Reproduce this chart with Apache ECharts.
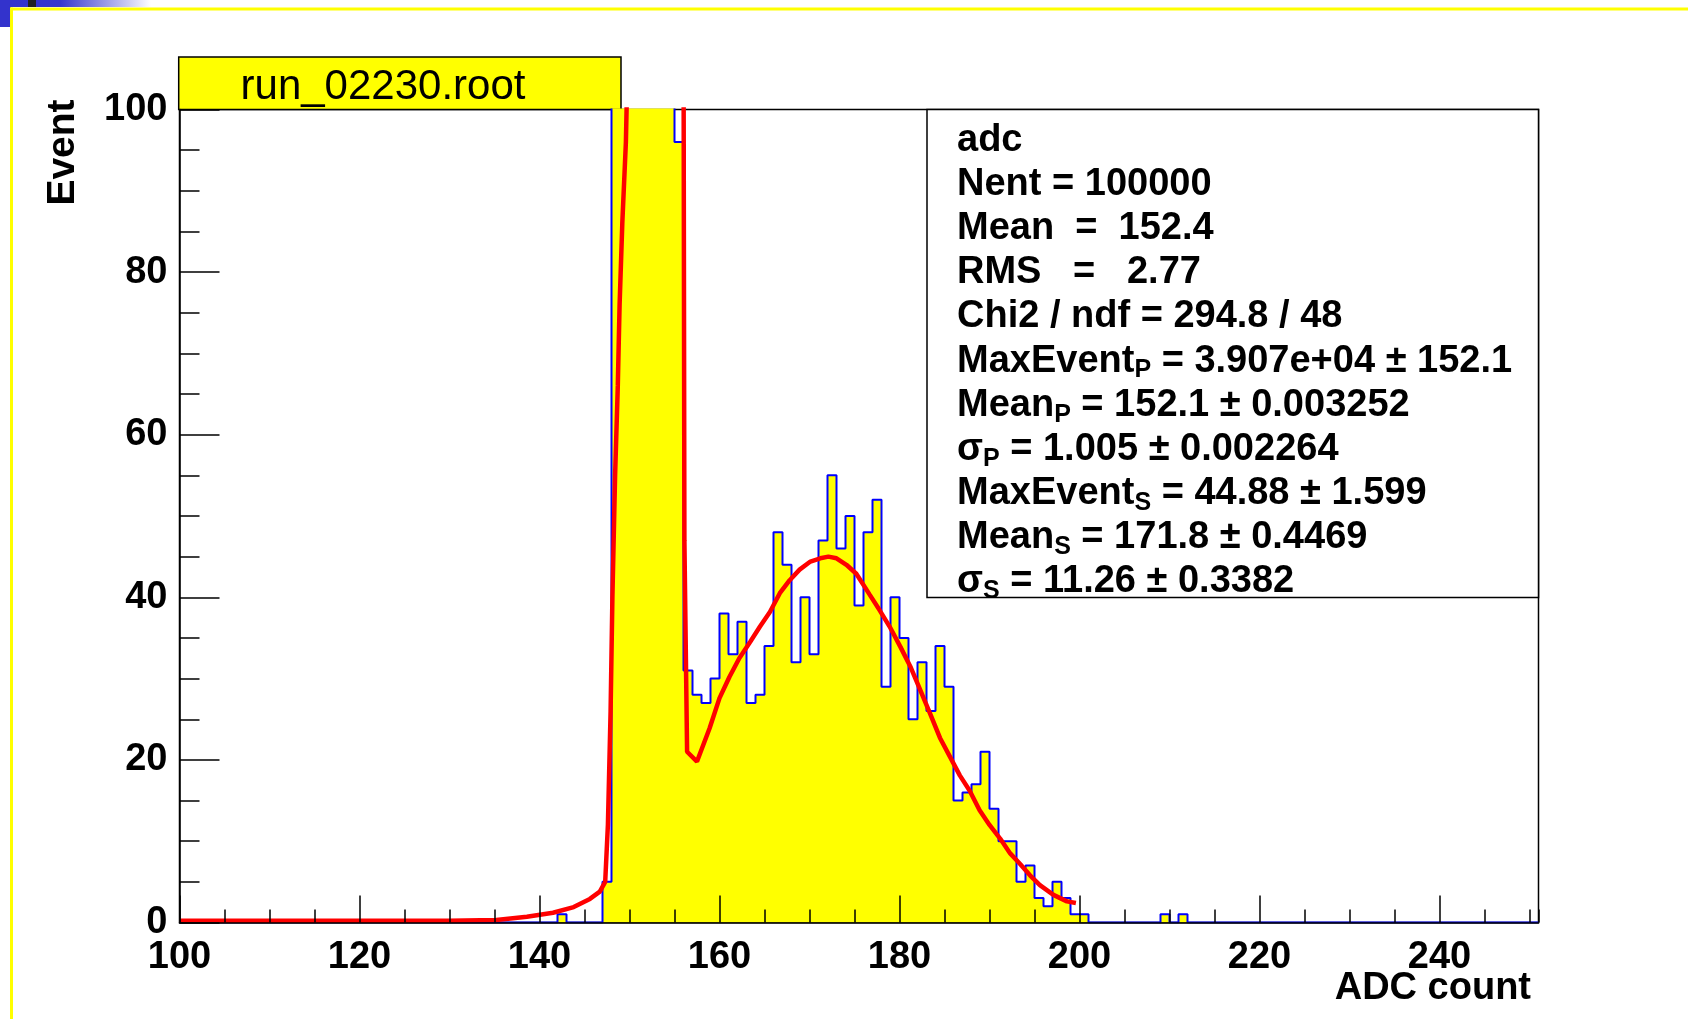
<!DOCTYPE html>
<html>
<head>
<meta charset="utf-8">
<script src="https://cdn.jsdelivr.net/npm/echarts@6/dist/echarts.min.js"></script>
<style>
  html, body { margin: 0; padding: 0; background: #fff; }
  #chart_adc { width: 1688px; height: 1019px; }
</style>
</head>
<body>
<div id="chart_adc"></div>
<script>
var FONT = '"Liberation Sans", Arial, Helvetica, sans-serif';

// histogram: one bin per ADC count, first bin starts at 100
var binLo = 100;
var binW = 1;
var counts = [
  0, 0, 0, 0, 0, 0, 0, 0, 0, 0,              // 100-109
  0, 0, 0, 0, 0, 0, 0, 0, 0, 0,              // 110-119
  0, 0, 0, 0, 0, 0, 0, 0, 0, 0,              // 120-129
  0, 0, 0, 0, 0, 0, 0, 0, 0, 0,              // 130-139
  0, 0, 1, 0, 0, 0, 0, 5, 300, 3200,         // 140-149 (148+ off scale)
  14000, 30000, 28000, 15000, 4500, 96, 31, 28, 27, 30,  // 150-159
  38, 33, 37, 27, 28, 34, 48, 44, 32, 40,    // 160-169
  33, 47, 55, 46, 50, 39, 48, 52, 29, 40,    // 170-179
  35, 25, 32, 26, 34, 29, 15, 16, 17, 21,    // 180-189
  14, 10, 10, 5, 7, 3, 2, 5, 3, 1,           // 190-199
  1, 0, 0, 0, 0, 0, 0, 0, 0, 1,              // 200-209
  0, 1, 0, 0, 0, 0, 0, 0, 0, 0,              // 210-219
  0, 0, 0, 0, 0, 0, 0, 0, 0, 0,              // 220-229
  0, 0, 0, 0, 0, 0, 0, 0, 0, 0,              // 230-239
  0, 0, 0, 0, 0, 0, 0, 0, 0, 0,              // 240-249
  0                                          // 250
];

// fitted curve
var fitX = [100, 110, 120, 130, 135.2, 138.6, 141.5, 143.8, 145.6, 146.7, 147.3,
  147.6, 147.9, 148.1, 148.4, 148.7, 148.9, 149.2, 149.6, 149.9,
  156.0, 156.1, 156.4, 157.5, 158.9, 160.0, 161.1, 162.2, 163.4, 164.5, 165.6,
  166.7, 167.8, 168.9, 170.1, 171.2, 172.1, 173.0, 174.1, 175.2, 176.7, 177.8,
  178.9, 180.1, 181.2, 182.3, 183.4, 184.5, 185.6, 186.7, 187.8, 188.9, 190.0,
  191.2, 192.3, 193.4, 194.5, 195.6, 197.1, 198.6, 199.6];
var fitY = [0.2, 0.2, 0.2, 0.2, 0.3, 0.7, 1.2, 1.9, 2.9, 3.8, 5.0,
  12, 26, 40, 55, 66, 76, 86, 96, 112,
  112, 47, 21, 19.8, 23.9, 27.6, 30.2, 32.5, 34.5, 36.4, 38.2,
  40.5, 42.1, 43.4, 44.4, 44.8, 45.0, 44.8, 44.0, 42.9, 40.3, 38.4,
  36.4, 33.9, 31.5, 28.6, 25.7, 22.7, 20.4, 18.1, 16.2, 13.8, 12.0,
  10.3, 8.5, 7.2, 5.8, 4.6, 3.4, 2.6, 2.4];

var xRange = [100, 251];
var yRange = [0, 100];

var statsLines = [
  '{b|adc}',
  '{b|Nent = 100000}',
  '{b|Mean  =  152.4}',
  '{b|RMS   =   2.77}',
  '{b|Chi2 / ndf = 294.8 / 48}',
  '{b|MaxEvent}{s|P}{b| = 3.907e+04 ± 152.1}',
  '{b|Mean}{s|P}{b| = 152.1 ± 0.003252}',
  '{b|σ}{s|P}{b| = 1.005 ± 0.002264}',
  '{b|MaxEvent}{s|S}{b| = 44.88 ± 1.599}',
  '{b|Mean}{s|S}{b| = 171.8 ± 0.4469}',
  '{b|σ}{s|S}{b| = 11.26 ± 0.3382}'
];

var histData = [];
for (var i = 0; i < counts.length; i++) {
  histData.push([binLo + i * binW, counts[i]]);
}
histData.push([binLo + counts.length * binW, counts[counts.length - 1]]);

var fitData = [];
for (var j = 0; j < fitX.length; j++) {
  fitData.push([fitX[j], fitY[j]]);
}

var myChart = echarts.init(document.getElementById('chart_adc'));

var tickLabel = { color: '#000', fontFamily: FONT, fontWeight: 'bold', fontSize: 38 };

var option = {
  backgroundColor: '#fff',
  animation: false,
  grid: {
    left: 179.5, right: 149.5, top: 109.5, bottom: 96.5,
    show: true, borderColor: '#000', borderWidth: 1.5, backgroundColor: 'transparent'
  },
  xAxis: [
    {
      type: 'value', min: xRange[0], max: xRange[1], interval: 20, z: 10,
      axisLine: { show: true, lineStyle: { color: '#000', width: 1.5 } },
      axisTick: { show: true, inside: true, length: 27, lineStyle: { color: '#000', width: 1.5 } },
      axisLabel: Object.assign({ margin: 16, showMaxLabel: false }, tickLabel),
      splitLine: { show: false }
    },
    {
      // minor ticks every 5
      type: 'value', min: xRange[0], max: xRange[1], interval: 5, position: 'bottom', z: 10,
      axisLine: { show: false },
      axisTick: { show: true, inside: true, length: 13, lineStyle: { color: '#000', width: 1.5 } },
      axisLabel: { show: false },
      splitLine: { show: false }
    }
  ],
  yAxis: {
    type: 'value', min: yRange[0], max: yRange[1], interval: 20, z: 10,
    axisLine: { show: true, lineStyle: { color: '#000', width: 1.5 } },
    axisTick: { show: true, inside: true, length: 40, lineStyle: { color: '#000', width: 1.5 } },
    minorTick: { show: true, splitNumber: 4, length: 20, lineStyle: { color: '#000', width: 1.5 } },
    axisLabel: Object.assign({ margin: 12 }, tickLabel),
    splitLine: { show: false },
    minorSplitLine: { show: false }
  },
  series: [
    {
      name: 'adc',
      type: 'line',
      step: 'end',
      data: histData,
      symbol: 'none',
      clip: true,
      z: 2,
      lineStyle: { color: '#0000ff', width: 2 },
      areaStyle: { color: '#ffff00', opacity: 1 }
    },
    {
      name: 'fit',
      type: 'line',
      data: fitData,
      symbol: 'none',
      clip: true,
      z: 4,
      lineStyle: { color: '#ff0000', width: 4.5 }
    }
  ],
  graphic: [
    // slide decoration round the picture
    { type: 'rect', shape: { x: 0, y: 0, width: 11, height: 27 }, style: { fill: '#3333cc' } },
    {
      type: 'rect', shape: { x: 11, y: 0, width: 140, height: 7 },
      style: {
        fill: new echarts.graphic.LinearGradient(0, 0, 1, 0, [
          { offset: 0, color: '#3333cc' },
          { offset: 0.35, color: '#3636cc' },
          { offset: 1, color: '#ffffff' }
        ])
      }
    },
    { type: 'rect', shape: { x: 28, y: 0, width: 8, height: 7 }, style: { fill: '#222222' } },
    { type: 'rect', shape: { x: 10, y: 7.5, width: 1678, height: 3 }, style: { fill: '#ffff00' } },
    { type: 'rect', shape: { x: 10, y: 7.5, width: 3, height: 1012 }, style: { fill: '#ffff00' } },

    // title box
    {
      type: 'rect', shape: { x: 178.7, y: 57, width: 442.3, height: 52.5 },
      style: { fill: '#ffff00', stroke: '#000', lineWidth: 1.5 }
    },
    {
      type: 'text', x: 383, y: 87.5,
      style: { text: 'run_02230.root', fontFamily: FONT, fontSize: 42, fill: '#000', align: 'center', verticalAlign: 'middle' }
    },

    // stats box
    {
      type: 'rect', shape: { x: 927, y: 109.5, width: 611.5, height: 488 },
      style: { fill: '#fff', stroke: '#000', lineWidth: 1.5 }
    },
    {
      type: 'text', x: 957, y: 118.5,
      style: {
        text: statsLines.join('\n'),
        align: 'left', verticalAlign: 'top',
        rich: {
          b: { fontFamily: FONT, fontWeight: 'bold', fontSize: 38, lineHeight: 44.1, fill: '#000' },
          s: { fontFamily: FONT, fontWeight: 'bold', fontSize: 25, lineHeight: 12, verticalAlign: 'bottom', fill: '#000' }
        }
      }
    },

    // axis titles
    {
      type: 'text', x: 1531, y: 989,
      style: { text: 'ADC count', fontFamily: FONT, fontWeight: 'bold', fontSize: 38, fill: '#000', align: 'right', verticalAlign: 'middle' }
    },
    {
      type: 'text', x: 63.5, y: 152.5, rotation: Math.PI / 2,
      style: { text: 'Event', fontFamily: FONT, fontWeight: 'bold', fontSize: 39, fill: '#000', align: 'center', verticalAlign: 'middle' }
    }
  ]
};

myChart.setOption(option);
</script>
</body>
</html>
